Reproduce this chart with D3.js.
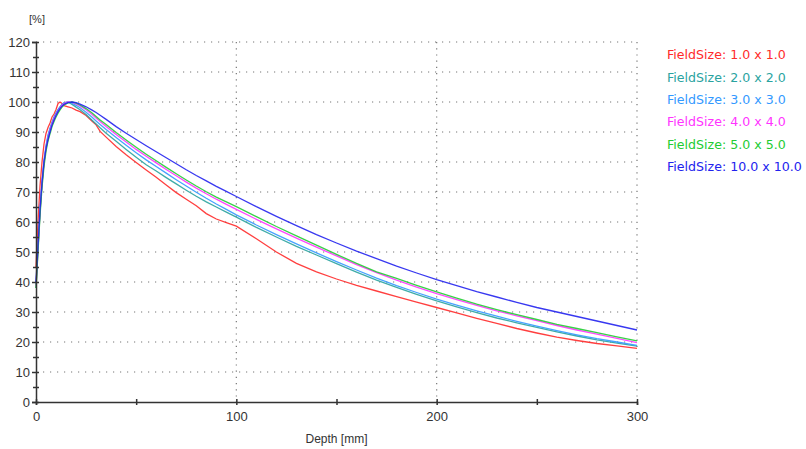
<!DOCTYPE html>
<html>
<head>
<meta charset="utf-8">
<script src="https://cdn.jsdelivr.net/npm/d3@7"></script>
<style>
  body { margin: 0; background: #fff; }
  svg { display: block; }
  .tick text { font-family: "Liberation Sans", Arial, sans-serif; font-size: 13px; fill: #333; }
  .grid line { stroke: #777; stroke-width: 1.2; }
</style>
</head>
<body>
<div id="chart"></div>
<script>
// depth in mm, dose in %
var depths = [0,1,2,3,4,5,6,7,8,9,10,11,12,13,14,16,18,20,22,25,28,30,32,35,40,45,50,55,60,65,70,75,80,85,90,95,100,
  110,120,130,140,150,160,170,180,190,200,210,220,230,240,250,260,270,280,290,300]

var fs1 = [45,60,72,80,86,89.5,91.5,93,95,96,97.5,99.5,100,99.5,98.8,98.4,98,97.3,96.8,95.5,93.6,92.4,90.2,88.3,85.2,82.4,79.8,77.3,74.9,72.3,69.8,67.6,65.4,62.8,61,59.8,58.6,
  54.4,50,46.2,43.4,41,38.9,37,35.1,33.3,31.5,29.7,27.9,26.2,24.5,23,21.6,20.5,19.5,18.7,17.9]
var fs2 = [38,51,63,73,80,85,88.5,91,93,94.8,96.2,97.4,98.4,99.2,99.7,100,99.2,98.3,97.4,95.8,93.9,92.7,91.4,89.6,86.9,84.2,81.6,79.1,77,74.8,72.7,70.6,68.6,66.7,65,63.3,61.6,
  58.2,55,51.9,49,46.1,43.3,40.6,38.2,35.9,33.7,31.7,29.8,28,26.4,24.9,23.4,22,20.7,19.6,18.6]
var fs3 = [39,52,64,73.5,80.5,85.5,89,91.3,93.3,95,96.3,97.5,98.4,99.2,99.7,100,99.6,98.9,98.1,96.6,94.9,93.7,92.5,90.8,88.2,85.6,83.1,80.7,78.5,76.3,74.1,72,69.9,67.9,66,64.2,62.4,
  59,55.8,52.7,49.7,46.8,44,41.3,38.8,36.5,34.3,32.3,30.4,28.6,26.9,25.3,23.8,22.4,21.1,20,18.9]
var fs4 = [38.5,51,63,72.5,79.5,84.5,88,90.5,92.7,94.4,95.8,97,98,98.9,99.5,100,99.9,99.4,98.7,97.4,95.8,94.7,93.5,91.8,89.2,86.7,84.2,81.9,79.7,77.5,75.4,73.3,71.3,69.4,67.6,65.9,64.2,
  60.9,57.7,54.6,51.6,48.7,45.8,43.1,40.6,38.3,36.1,34.1,32.2,30.4,28.7,27.1,25.5,24,22.6,21.2,19.8]
var fs5 = [38,50,62,71.5,78.5,83.5,87,89.5,91.8,93.5,95,96.3,97.4,98.3,99,99.7,100,99.6,99,97.8,96.3,95.2,94,92.5,89.8,87.3,84.9,82.6,80.4,78.2,76.1,74,72,70.1,68.3,66.7,65.1,
  61.8,58.5,55.4,52.3,49.2,46.2,43.4,41.2,38.9,36.7,34.6,32.6,30.8,29.1,27.5,25.9,24.5,23.1,21.7,20.4]
var fs10 = [40,52,64,73,80,84.5,87.5,90,92.3,94,95.5,96.8,97.8,98.6,99.2,99.8,100,99.8,99.3,98.4,97.3,96.5,95.6,94.2,91.8,89.6,87.5,85.4,83.4,81.4,79.4,77.4,75.5,73.7,71.9,70.2,68.5,
  65.1,61.9,58.8,55.8,53,50.3,47.8,45.3,43,40.8,38.8,36.8,35,33.2,31.5,30,28.5,27,25.5,24]

var names = ['FieldSize: 1.0 x 1.0', 'FieldSize: 2.0 x 2.0', 'FieldSize: 3.0 x 3.0',
  'FieldSize: 4.0 x 4.0', 'FieldSize: 5.0 x 5.0', 'FieldSize: 10.0 x 10.0']
var colors = ['#ff2a2a', '#2aa39f', '#3399ff', '#ff33ff', '#22cc33', '#2222ee']
var series = [fs1, fs2, fs3, fs4, fs5, fs10]

var yTicks = d3.range(0, 121, 10)
var xTicks = [0, 100, 200, 300]

var W = 806, H = 449
var margin = {top: 42, right: 169, bottom: 47, left: 36}
var width = W - margin.left - margin.right,
    height = H - margin.top - margin.bottom

var svg = d3.select('#chart').append('svg')
  .attr('width', W).attr('height', H)
var g = svg.append('g')
  .attr('transform', 'translate(' + margin.left + ',' + margin.top + ')')

var x = d3.scaleLinear().domain([0, 300]).range([0, width])
var y = d3.scaleLinear().domain([0, 120]).range([height, 0])

// dotted grid
g.append('g').attr('class', 'grid')
  .selectAll('line').data(yTicks.slice(1)).enter().append('line')
    .attr('x1', 0).attr('x2', width)
    .attr('y1', d => y(d)).attr('y2', d => y(d))
    .attr('stroke-dasharray', '1.2,5.8')
g.append('g').attr('class', 'grid')
  .selectAll('line').data(xTicks.slice(1)).enter().append('line')
    .attr('x1', d => x(d)).attr('x2', d => x(d))
    .attr('y1', 0).attr('y2', height)
    .attr('stroke-dasharray', '1.2,5')

// curves
var line = d3.line()
  .x((d, i) => x(depths[i]))
  .y(d => y(d))
g.selectAll('.curve').data(series).enter().append('path')
  .attr('class', 'curve')
  .attr('fill', 'none')
  .attr('stroke', (d, i) => colors[i])
  .attr('stroke-width', 1.3)
  .attr('stroke-opacity', 0.9)
  .attr('d', line)

// y axis
var yMinor = g.append('g')
  .call(d3.axisLeft(y).tickValues(d3.range(5, 120, 10)).tickSize(3).tickFormat(''))
yMinor.select('.domain').remove()
yMinor.selectAll('line').attr('x2', 3).attr('x1', -3).attr('stroke', '#333').attr('stroke-width', 1.5)
var yAxis = g.append('g')
  .call(d3.axisLeft(y).tickValues(yTicks).tickSize(4).tickPadding(2))
yAxis.select('.domain').attr('stroke', '#333').attr('stroke-width', 1.5)
yAxis.selectAll('line').attr('x1', 3).attr('stroke', '#333').attr('stroke-width', 1.5)

// x axis
var xMinor = g.append('g').attr('transform', 'translate(0,' + height + ')')
  .call(d3.axisBottom(x).tickValues([50, 150, 250]).tickSize(3).tickFormat(''))
xMinor.select('.domain').remove()
xMinor.selectAll('line').attr('y1', -3).attr('stroke', '#333').attr('stroke-width', 1.5)
var xAxis = g.append('g').attr('transform', 'translate(0,' + height + ')')
  .call(d3.axisBottom(x).tickValues(xTicks).tickSize(3).tickPadding(7))
xAxis.select('.domain').attr('stroke', '#333').attr('stroke-width', 1.5)
xAxis.selectAll('line').attr('y1', -3).attr('stroke', '#333').attr('stroke-width', 1.5)

// axis titles
svg.append('text')
  .attr('x', margin.left + width / 2).attr('y', 443)
  .attr('text-anchor', 'middle')
  .style('font-family', '"Liberation Sans", Arial, sans-serif')
  .style('font-size', '12px').style('fill', '#333')
  .text('Depth [mm]')
svg.append('text')
  .attr('x', 37).attr('y', 23)
  .attr('text-anchor', 'middle')
  .style('font-family', '"Liberation Sans", Arial, sans-serif')
  .style('font-size', '11px').style('fill', '#333')
  .text('[%]')

// legend
var legend = svg.append('g').attr('transform', 'translate(667,55)')
legend.selectAll('text').data(names).enter().append('text')
  .attr('x', 0).attr('y', (d, i) => i * 22.3)
  .attr('dy', '0.35em')
  .style('font-family', '"DejaVu Sans", Verdana, sans-serif')
  .style('font-size', '12.6px')
  .style('fill', (d, i) => colors[i])
  .text(d => d)
</script>
</body>
</html>
